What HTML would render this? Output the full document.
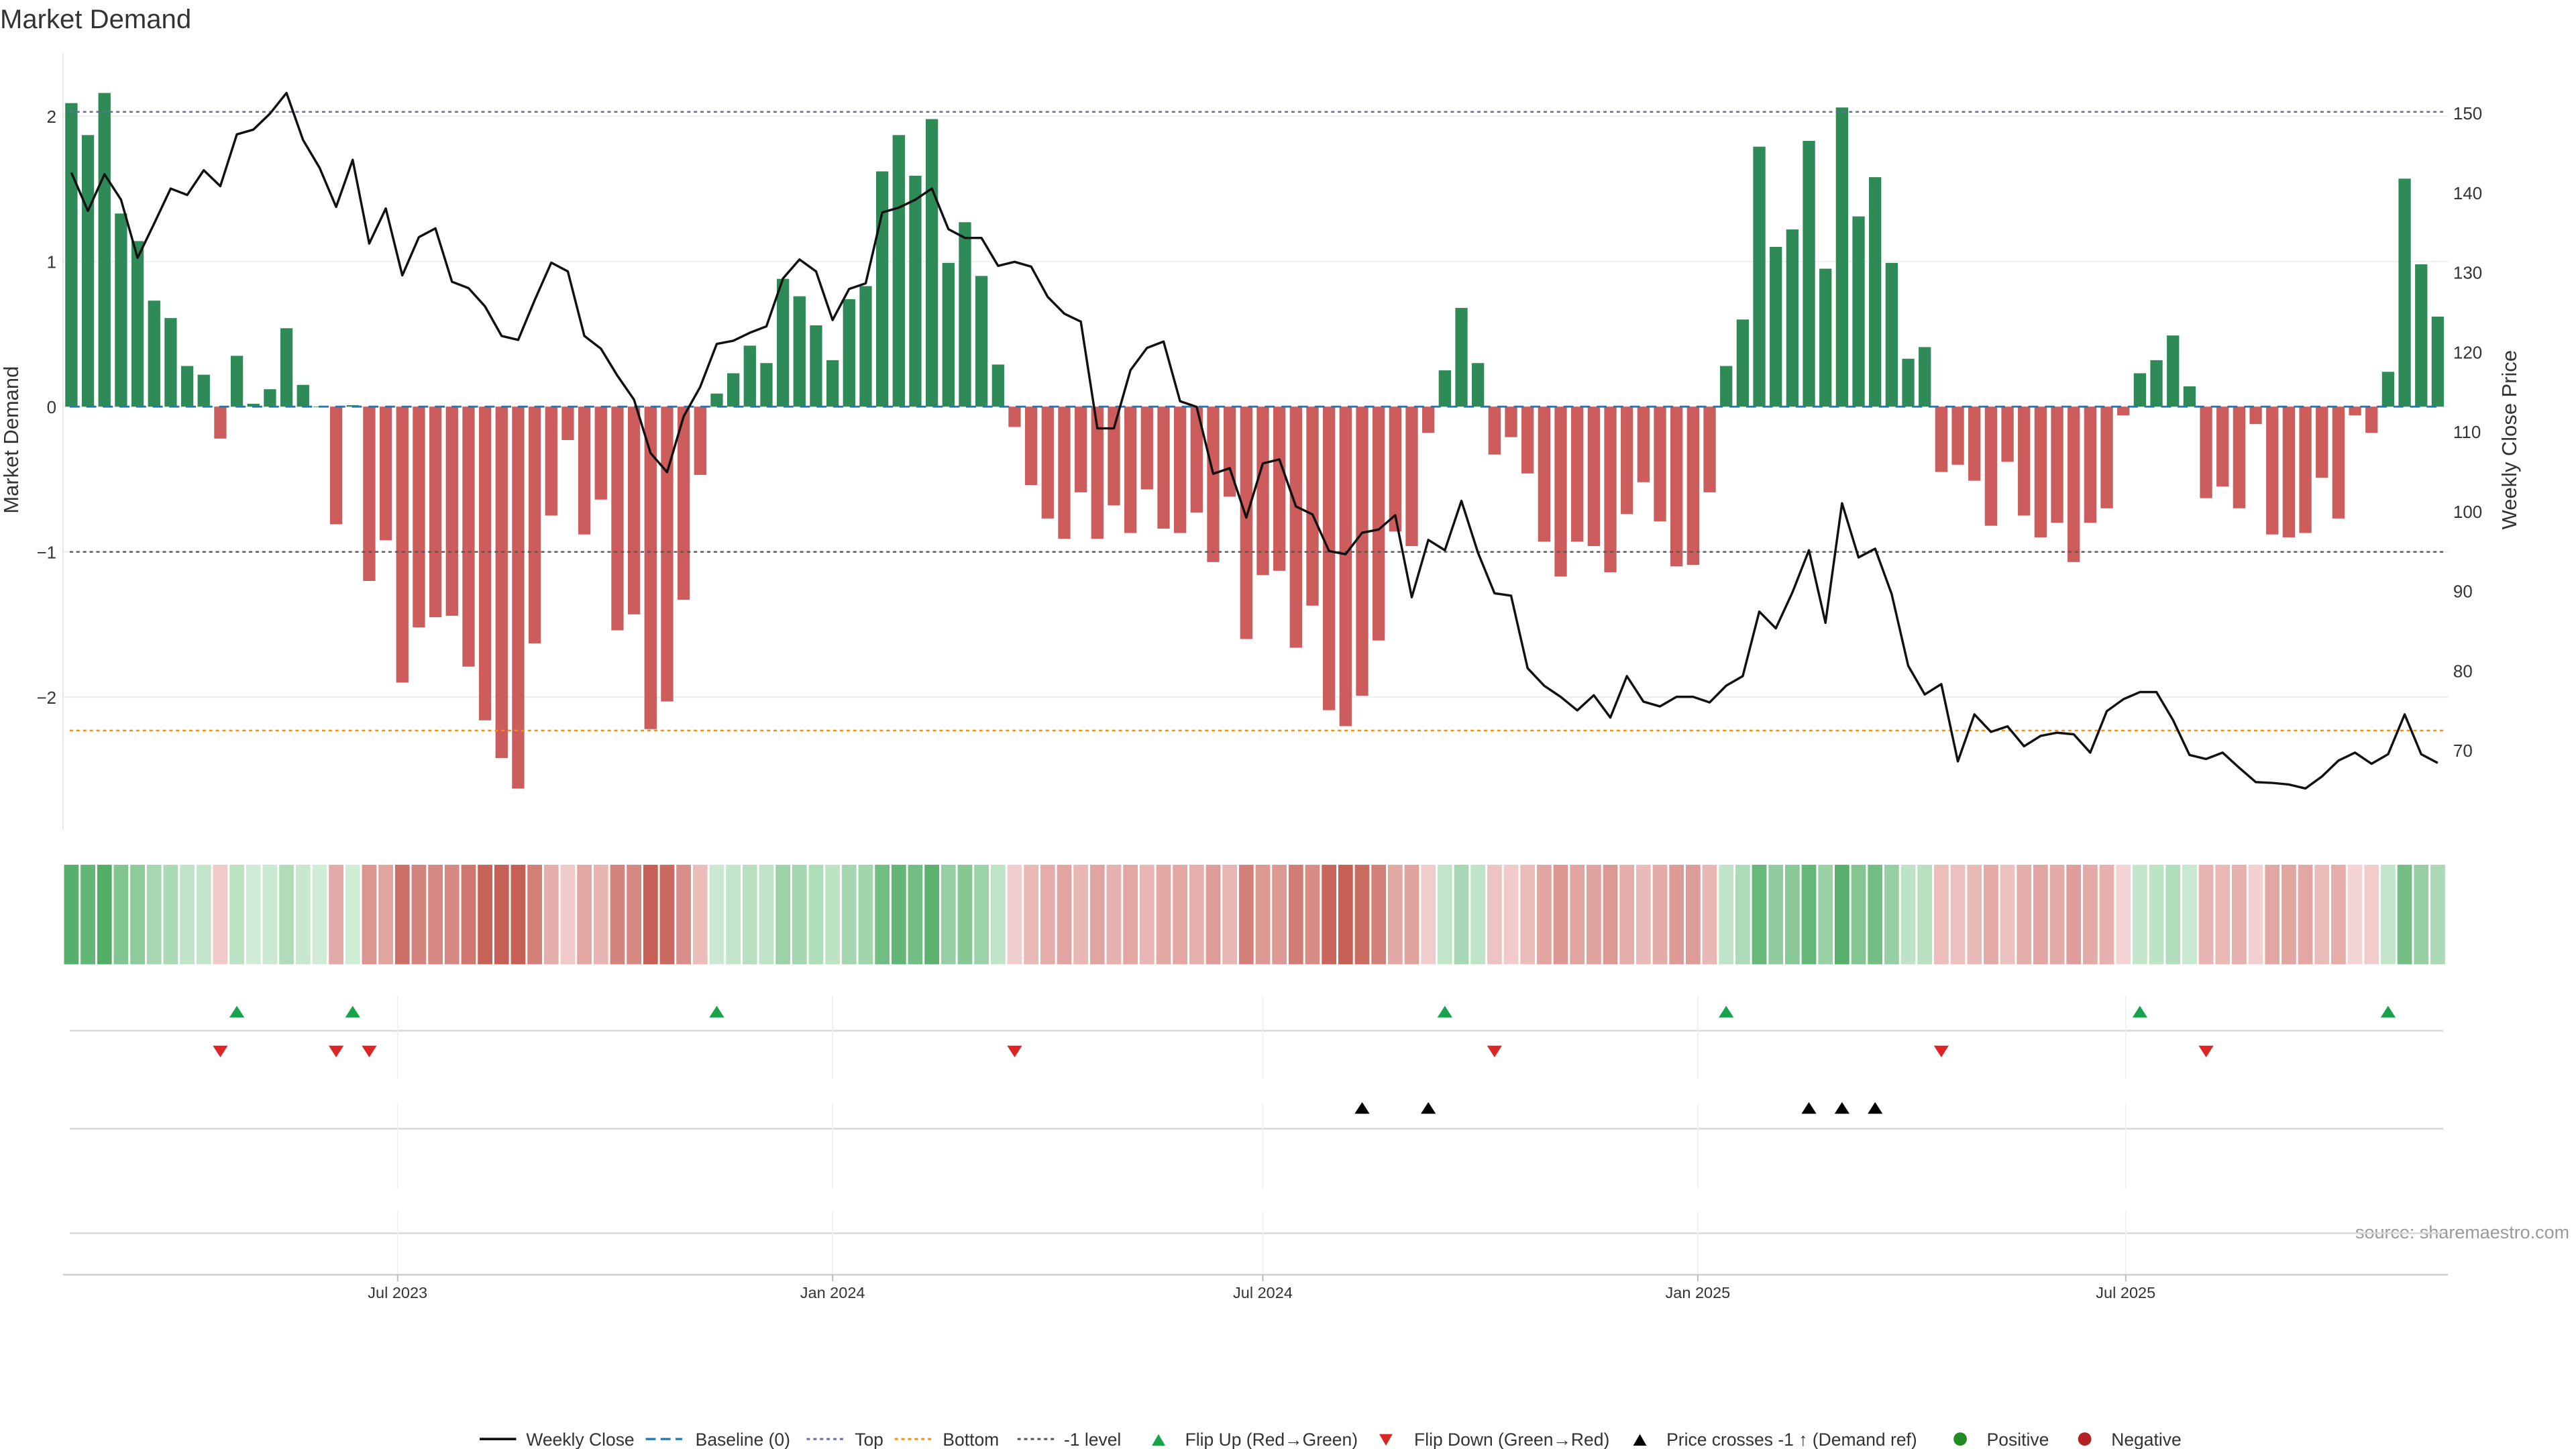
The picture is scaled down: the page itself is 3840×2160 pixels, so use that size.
<!DOCTYPE html>
<html><head><meta charset="utf-8"><title>Market Demand</title>
<style>
html,body{margin:0;padding:0;background:#fff;}
svg{display:block;font-family:"Liberation Sans","DejaVu Sans",sans-serif;}
</style></head>
<body>
<svg id="chart" width="3840" height="2160" viewBox="0 0 1552 873" xmlns="http://www.w3.org/2000/svg">
<rect width="1552" height="873" fill="#fff"/>
<text x="0" y="17" font-size="16.2" fill="#333">Market Demand</text>
<text transform="translate(11,265) rotate(-90)" text-anchor="middle" font-size="12.5" fill="#333">Market Demand</text>
<text transform="translate(1516,265) rotate(-90)" text-anchor="middle" font-size="12.5" fill="#333">Weekly Close Price</text>
<text x="1548" y="746" text-anchor="end" font-size="10.9" fill="#999">source: sharemaestro.com</text>
<g id="grid"></g>
<g id="bars"></g>
<g id="levels"></g>
<g id="priceg"></g>
<g id="heat"></g>
<g id="markers"></g>
<g id="axes"></g>
<g id="legend" font-size="10.7" fill="#333">
  <g><line x1="289" y1="867" x2="311" y2="867" stroke="#111" stroke-width="1.5"/><text x="317" y="871">Weekly Close</text></g>
  <g><line x1="389" y1="867" x2="411" y2="867" stroke="#1f77b4" stroke-width="1.3" stroke-dasharray="6,3"/><text x="419" y="871">Baseline (0)</text></g>
  <g><line x1="486" y1="867" x2="508" y2="867" stroke="#6a6aa0" stroke-width="1.2" stroke-dasharray="2,2"/><text x="515" y="871">Top</text></g>
  <g><line x1="539" y1="867" x2="561" y2="867" stroke="#ff8c00" stroke-width="1.2" stroke-dasharray="2,2"/><text x="568" y="871">Bottom</text></g>
  <g><line x1="613" y1="867" x2="635" y2="867" stroke="#555" stroke-width="1.2" stroke-dasharray="2,2"/><text x="641" y="871">-1 level</text></g>
  <g><path d="M694,871 L702,871 L698,864 Z" fill="#16a34a"/><text x="714" y="871">Flip Up (Red→Green)</text></g>
  <g><path d="M831,864 L839,864 L835,871 Z" fill="#dc2626"/><text x="852" y="871">Flip Down (Green→Red)</text></g>
  <g><path d="M984,871 L992,871 L988,864 Z" fill="#000"/><text x="1004" y="871">Price crosses -1 ↑ (Demand ref)</text></g>
  <g><circle cx="1181" cy="867" r="4" fill="#228b22"/><text x="1197" y="871">Positive</text></g>
  <g><circle cx="1256" cy="867" r="4" fill="#b22222"/><text x="1272" y="871">Negative</text></g>
</g>
</svg>
<script>
const demand=[2.09,1.87,2.16,1.33,1.14,0.73,0.61,0.28,0.22,-0.22,
0.35,0.02,0.12,0.54,0.15,0.00,-0.81,0.01,-1.20,-0.92,
-1.90,-1.52,-1.45,-1.44,-1.79,-2.16,-2.42,-2.63,-1.63,-0.75,
-0.23,-0.88,-0.64,-1.54,-1.43,-2.22,-2.03,-1.33,-0.47,0.09,
0.23,0.42,0.30,0.88,0.76,0.56,0.32,0.74,0.83,1.62,
1.87,1.59,1.98,0.99,1.27,0.90,0.29,-0.14,-0.54,-0.77,
-0.91,-0.59,-0.91,-0.68,-0.87,-0.57,-0.84,-0.87,-0.73,-1.07,
-0.62,-1.60,-1.16,-1.13,-1.66,-1.37,-2.09,-2.20,-1.99,-1.61,
-0.86,-0.96,-0.18,0.25,0.68,0.30,-0.33,-0.21,-0.46,-0.93,
-1.17,-0.93,-0.96,-1.14,-0.74,-0.52,-0.79,-1.10,-1.09,-0.59,
0.28,0.60,1.79,1.10,1.22,1.83,0.95,2.06,1.31,1.58,
0.99,0.33,0.41,-0.45,-0.40,-0.51,-0.82,-0.38,-0.75,-0.90,
-0.80,-1.07,-0.80,-0.70,-0.06,0.23,0.32,0.49,0.14,-0.63,
-0.55,-0.70,-0.12,-0.88,-0.90,-0.87,-0.49,-0.77,-0.06,-0.18,
0.24,1.57,0.98,0.62];
const price=[142.5,137.7,142.3,139.1,131.8,136.1,140.5,139.7,142.8,140.8,
147.3,147.9,149.9,152.5,146.6,143.1,138.2,144.1,133.6,138.0,
129.6,134.4,135.5,128.8,128.0,125.7,122.0,121.5,126.5,131.2,
130.1,122.0,120.4,117.0,114.0,107.3,104.9,111.9,115.6,121.0,
121.4,122.4,123.2,129.2,131.6,130.1,124.0,127.9,128.6,137.5,
138.1,139.1,140.5,135.4,134.3,134.3,130.8,131.3,130.7,126.9,
124.8,123.8,110.4,110.4,117.7,120.5,121.3,113.8,113.1,104.7,
105.4,99.2,106.0,106.5,100.6,99.6,95.0,94.6,97.3,97.7,
99.5,89.2,96.4,95.1,101.3,94.8,89.7,89.4,80.3,78.1,
76.7,75.0,76.9,74.1,79.3,76.1,75.5,76.7,76.7,76.0,
78.1,79.3,87.4,85.3,89.8,95.1,86.0,101.0,94.2,95.3,
89.6,80.6,77.0,78.3,68.6,74.5,72.3,73.0,70.5,71.8,
72.2,72.0,69.7,74.9,76.4,77.3,77.3,73.8,69.4,68.9,
69.7,67.8,66.0,65.9,65.7,65.2,66.7,68.7,69.7,68.3,
69.5,74.5,69.5,68.4];
const startDate='2023-02-13';
const tickLabels=['Jul 2023','Jan 2024','Jul 2024','Jan 2025','Jul 2025'];
const tickDates=['2023-07-01','2024-01-01','2024-07-01','2025-01-01','2025-07-01'];
const leftTicks=[-2,-1,0,1,2];
const rightTicks=[70,80,90,100,110,120,130,140,150];
const topLevel=2.03;
const bottomLevel=-2.23;
const minusLevel=-1;

const NS='http://www.w3.org/2000/svg';
const X0=43, WK=9.97;
function xAt(i){return X0+i*WK;}
function xDate(d){return X0+((new Date(d)-new Date(startDate))/86400000)/7*WK;}
function yL(v){return 245-v*87.5;}
function yR(p){return 68+(150-p)*4.8;}
function pAtY(y){return 150-(y-68)/4.8;}
function mk(parent,tag,attrs,text){const e=document.createElementNS(NS,tag);for(const k in attrs)e.setAttribute(k,attrs[k]);if(text!==undefined)e.textContent=text;document.getElementById(parent).appendChild(e);return e;}

leftTicks.forEach(t=>{
  const g=mk('grid','line',{x1:38,x2:1475,y1:yL(t),y2:yL(t),stroke:'#eeeeee','stroke-width':0.8});
  
  
  const l=mk('axes','text',{x:34,y:yL(t)+4,'text-anchor':'end','font-size':10.5,fill:'#333'},t<0?'−'+Math.abs(t):String(t));
  
  
});
rightTicks.forEach(t=>{
  const l=mk('axes','text',{x:1478,y:yR(t)+4,'font-size':10.5,fill:'#333'},String(t));
  
  
});
const sp=mk('axes','line',{x1:38,x2:38,y1:32,y2:500,stroke:'#e6e6e6','stroke-width':0.8});



demand.forEach((v,i)=>{
  const y0=yL(0), y1=yL(v);
  const r=mk('bars','rect',{x:xAt(i)-3.7,y:Math.min(y0,y1),width:7.4,height:Math.max(Math.abs(y1-y0),0.3),fill:v>=0?'#2e8b57':'#cd5c5c'});
  
  
});

const lv=[[yL(0),'#1f77b4','6,4',1.2,'baseline-line'],[yL(topLevel),'#6a6aa0','2,2',1,'top-line'],[yL(bottomLevel),'#ff8c00','2,2',1,'bottom-line'],[yL(minusLevel),'#555','2,2',1,'minus1-level-line']];
lv.forEach(a=>{
  const l=mk('levels','line',{x1:42,x2:1472,y1:a[0],y2:a[0],stroke:a[1],'stroke-dasharray':a[2],'stroke-width':a[3]});
  
  
});

const pl=mk('priceg','polyline',{points:price.map((p,i)=>xAt(i).toFixed(2)+','+yR(p).toFixed(2)).join(' '),fill:'none',stroke:'#111','stroke-width':1.4,'stroke-linejoin':'round'});



function mix(a,b,t){return 'rgb('+a.map((c,k)=>Math.round(c+(b[k]-c)*t)).join(',')+')';}
demand.forEach((v,i)=>{
  const t=Math.min(Math.abs(v)/2.2,1);
  const c=v>=0?mix([208,236,214],[80,172,100],t):mix([244,214,214],[198,96,86],t);
  const r=mk('heat','rect',{x:xAt(i)-4.4,y:521,width:8.8,height:60,fill:c});
  
  
});

[621,680,743].forEach(y=>{
  const l=mk('grid','line',{x1:42,x2:1472,y1:y,y2:y,stroke:'#d8d8d8','stroke-width':1});
  
  
});
const bx=mk('axes','line',{x1:38,x2:1475,y1:768,y2:768,stroke:'#d0d0d0','stroke-width':1});


tickDates.forEach((d,k)=>{
  const x=xDate(d);
  [[600,650],[665,716],[730,768]].forEach(s=>{
    const g=mk('grid','line',{x1:x,x2:x,y1:s[0],y2:s[1],stroke:'#f0f0f0','stroke-width':0.8});
    
    
  });
  const tk=mk('axes','line',{x1:x,x2:x,y1:768,y2:772,stroke:'#bbb','stroke-width':0.8});
  
  
  const t=mk('axes','text',{x:x,y:782,'text-anchor':'middle','font-size':9.5,fill:'#333'},tickLabels[k]);
  
  
});

const crossLevel=pAtY(yL(minusLevel));
for(let i=1;i<demand.length;i++){
  const x=xAt(i);
  if(demand[i]>0&&demand[i-1]<=0){
    const m=mk('markers','path',{d:`M${x-4.5},${613} L${x+4.5},${613} L${x},${606} Z`,fill:'#16a34a'});
    
    
  }
  if(demand[i]<0&&demand[i-1]>=0){
    const m=mk('markers','path',{d:`M${x-4.5},${630} L${x+4.5},${630} L${x},${637} Z`,fill:'#dc2626'});
    
    
  }
  if(price[i]>crossLevel&&price[i-1]<=crossLevel){
    const m=mk('markers','path',{d:`M${x-4.5},${671} L${x+4.5},${671} L${x},${664} Z`,fill:'#000'});
    
    
  }
}
</script>
</body></html>
